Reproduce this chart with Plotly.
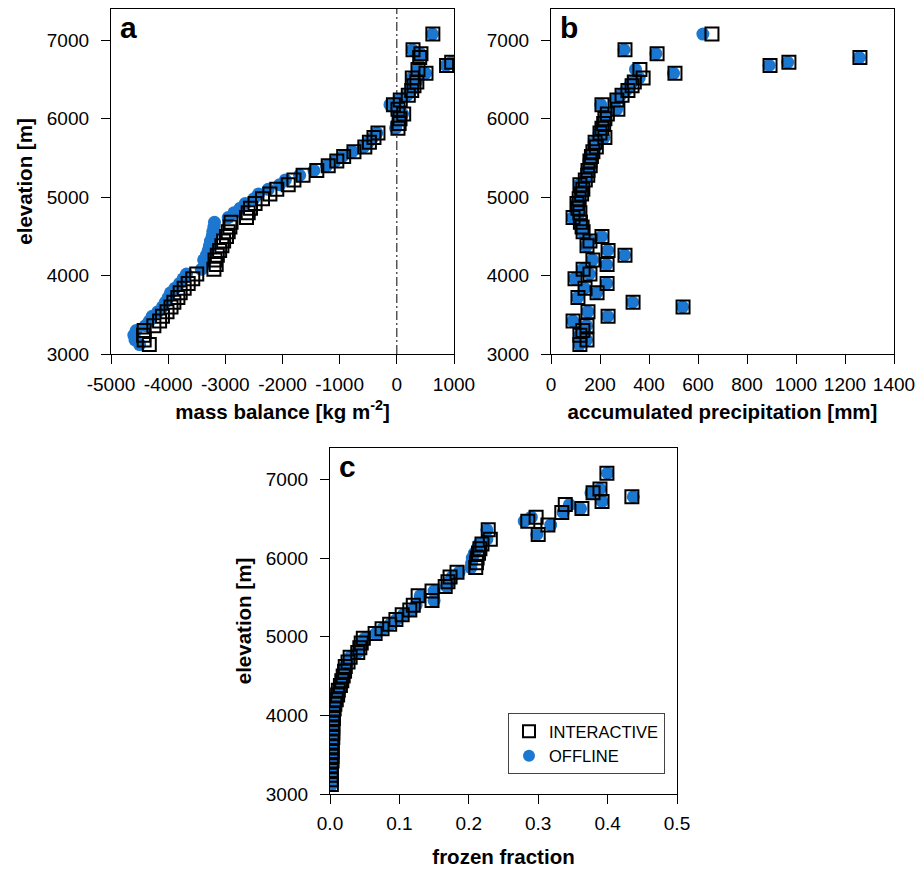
import plotly.graph_objects as go

# ---------------- data ----------------
elevation = [3120, 3180, 3240, 3300, 3360, 3420, 3480, 3540, 3600, 3660,
             3720, 3780, 3840, 3900, 3960, 4020, 4080, 4140, 4200, 4260,
             4320, 4380, 4440, 4500, 4560, 4620, 4680, 4740, 4800, 4860,
             4920, 4980, 5040, 5100, 5160, 5220, 5280, 5340, 5400, 5460,
             5520, 5580, 5640, 5700, 5760, 5820, 5880, 5940, 6000, 6060,
             6120, 6180, 6240, 6300, 6360,
             6420, 6470, 6520, 6580, 6630, 6680, 6720, 6780, 6830, 6880, 7080]

mb_interactive = [-4330, -4420, -4430, -4420, -4250, -4150, -4100, -4020, -3950, -3900,
                  -3830, -3790, -3720, -3650, -3570, -3500, -3200, -3160, -3180, -3140,
                  -3100, -3060, -3030, -2980, -2950, -2920, -2900, -2630, -2600, -2560,
                  -2480, -2350, -2220, -2100, -1900, -1800, -1640, -1400, -1200, -1050,
                  -930, -750, -560, -480, -400, -330, 20, 40, 55, 120,
                  20, -60, 60, 200, 260,
                  300, 350, 270, 510, 370, 870, 960, 400, 422, 283, 630]

mb_offline = [-4500, -4580, -4600, -4560, -4400, -4330, -4280, -4180, -4100, -4050,
              -4000, -3960, -3880, -3800, -3740, -3680, -3420, -3360, -3380, -3330,
              -3300, -3280, -3260, -3230, -3220, -3200, -3190, -2950, -2850, -2740,
              -2650, -2500, -2420, -2250, -2050, -1950, -1700, -1450, -1230, -1080,
              -950, -780, -580, -500, -420, -350, -20, 0, 30, 100,
              -10, -120, 30, 180, 250,
              290, 340, 260, 500, 360, 860, 950, 390, 410, 270, 620]

precip_interactive = [118, 147, 118, 130, 147, 90, 233, 151, 539, 335,
                      110, 188, 139, 229, 98, 159, 131, 229, 171, 302,
                      233, 147, 159, 208, 131, 127, 120, 90, 118, 110,
                      106, 115, 125, 130, 118, 140, 150, 151, 160, 159,
                      165, 171, 185, 180, 220, 200, 208, 215, 220, 230,
                      273, 208, 269, 290, 314,
                      331, 340, 376, 506, 363, 894, 971, 1261, 433, 302, 657]

precip_offline = [116, 145, 117, 128, 145, 89, 231, 150, 537, 333,
                  108, 186, 137, 227, 96, 157, 129, 227, 169, 300,
                  231, 145, 157, 206, 129, 125, 118, 88, 116, 108,
                  104, 113, 123, 128, 116, 137, 147, 148, 157, 156,
                  162, 168, 182, 176, 216, 196, 204, 210, 215, 225,
                  268, 203, 263, 284, 306,
                  322, 332, 360, 500, 345, 890, 966, 1258, 428, 298, 620]

frozen_interactive = [0.002, 0.002, 0.002, 0.002, 0.002, 0.003, 0.003, 0.003, 0.003, 0.003,
                      0.004, 0.004, 0.004, 0.004, 0.005, 0.005, 0.006, 0.007, 0.009, 0.011,
                      0.012, 0.015, 0.017, 0.019, 0.021, 0.022, 0.026, 0.029, 0.040, 0.043,
                      0.045, 0.048, 0.065, 0.075, 0.086, 0.095, 0.104, 0.115, 0.120, 0.147,
                      0.127, 0.147, 0.166, 0.170, 0.173, 0.183, 0.210, 0.211, 0.212, 0.214,
                      0.216, 0.219, 0.231, 0.300, 0.228,
                      0.314, 0.285, 0.297, 0.334, 0.363, 0.339, 0.392, 0.435, 0.379, 0.389, 0.399]

frozen_offline = [0.002, 0.002, 0.002, 0.002, 0.002, 0.003, 0.003, 0.003, 0.003, 0.003,
                  0.004, 0.004, 0.004, 0.004, 0.005, 0.005, 0.006, 0.007, 0.009, 0.011,
                  0.012, 0.015, 0.017, 0.019, 0.021, 0.022, 0.026, 0.029, 0.040, 0.043,
                  0.046, 0.050, 0.066, 0.076, 0.087, 0.096, 0.106, 0.118, 0.124, 0.150,
                  0.130, 0.150, 0.168, 0.172, 0.176, 0.186, 0.203, 0.204, 0.205, 0.208,
                  0.212, 0.215, 0.226, 0.298, 0.226,
                  0.318, 0.280, 0.290, 0.336, 0.361, 0.345, 0.392, 0.437, 0.376, 0.389, 0.400]

mb_ticks = [-5000, -4000, -3000, -2000, -1000, 0, 1000]
mb_ticktext = ['-5000', '-4000', '-3000', '-2000', '-1000', '0', '1000']
precip_ticks = [0, 200, 400, 600, 800, 1000, 1200, 1400]
frozen_ticks = [0.0, 0.1, 0.2, 0.3, 0.4, 0.5]
frozen_ticktext = ['0.0', '0.1', '0.2', '0.3', '0.4', '0.5']
elev_ticks = [3000, 4000, 5000, 6000, 7000]

BLUE = '#1c77d0'
FONT = 'Liberation Sans'

fig = go.Figure()

panels = [
    ('x', 'y', mb_offline, mb_interactive),
    ('x2', 'y2', precip_offline, precip_interactive),
    ('x3', 'y3', frozen_offline, frozen_interactive),
]
for xa, ya, off, inter in panels:
    show = (xa == 'x3')
    fig.add_trace(go.Scatter(
        x=off, y=elevation, xaxis=xa, yaxis=ya, mode='markers', name='OFFLINE',
        marker=dict(symbol='circle', size=13, color=BLUE, line=dict(width=0)),
        showlegend=show, legendrank=2))
    fig.add_trace(go.Scatter(
        x=inter, y=elevation, xaxis=xa, yaxis=ya, mode='markers', name='INTERACTIVE',
        marker=dict(symbol='square-open', size=13, color='black', line=dict(width=2)),
        showlegend=show, legendrank=1))

W, H = 918, 870
def dx(a, b):
    return [a / W, b / W]
def dy(top, bottom):
    return [1 - bottom / H, 1 - top / H]

axis_common = dict(showline=True, linecolor='black', linewidth=1.3, mirror=True,
                   ticks='outside', ticklen=9, tickwidth=1.3, tickcolor='black',
                   showgrid=False, zeroline=False, automargin=False,
                   tickfont=dict(family=FONT, size=19, color='black'))
title_font = dict(family=FONT, size=20.5, color='black', weight='bold')

fig.update_layout(
    width=W, height=H, margin=dict(l=0, r=0, t=0, b=0),
    paper_bgcolor='white', plot_bgcolor='white',
    font=dict(family=FONT, color='black'),
    xaxis=dict(domain=dx(111, 454), range=[-5000, 1000], tickvals=mb_ticks, ticktext=mb_ticktext,
               title=dict(text='mass balance [kg m<sup>-2</sup>]', font=title_font, standoff=10),
               anchor='y', ticklabelstandoff=4, **axis_common),
    yaxis=dict(domain=dy(9, 354), range=[3000, 7400], tickvals=elev_ticks,
               title=dict(text='elevation [m]', font=title_font, standoff=8),
               anchor='x', ticklabelstandoff=8, **axis_common),
    xaxis2=dict(domain=dx(551, 894), range=[0, 1400], tickvals=precip_ticks,
                title=dict(text='accumulated precipitation [mm]', font=title_font, standoff=10),
                anchor='y2', ticklabelstandoff=4, **axis_common),
    yaxis2=dict(domain=dy(9, 354), range=[3000, 7400], tickvals=elev_ticks,
                anchor='x2', ticklabelstandoff=8, **axis_common),
    xaxis3=dict(domain=dx(330, 677), range=[0, 0.5], tickvals=frozen_ticks, ticktext=frozen_ticktext,
                title=dict(text='frozen fraction', font=title_font, standoff=16),
                anchor='y3', ticklabelstandoff=3, **axis_common),
    yaxis3=dict(domain=dy(448, 794), range=[3000, 7400], tickvals=elev_ticks,
                title=dict(text='elevation [m]', font=title_font, standoff=8),
                anchor='x3', ticklabelstandoff=8, **axis_common),
    legend=dict(x=508 / W, y=1 - 713 / H, xanchor='left', yanchor='top',
                bordercolor='#444', borderwidth=1, bgcolor='white',
                font=dict(family=FONT, size=16.5, color='black'),
                itemsizing='constant', tracegroupgap=4),
    showlegend=True,
)

fig.add_shape(type='line', xref='x', yref='y domain', x0=0, x1=0, y0=0, y1=1,
              line=dict(color='black', width=1, dash='9px,3px,2px,3px'), layer='below')

for lab, xa, ya in [('a', 'x domain', 'y domain'), ('b', 'x2 domain', 'y2 domain'),
                    ('c', 'x3 domain', 'y3 domain')]:
    fig.add_annotation(text='<b>%s</b>' % lab, xref=xa, yref=ya, x=0.02, y=1.0,
                       xanchor='left', yanchor='top', showarrow=False,
                       font=dict(family=FONT, size=30, color='black'))

fig.write_html('out.html')
